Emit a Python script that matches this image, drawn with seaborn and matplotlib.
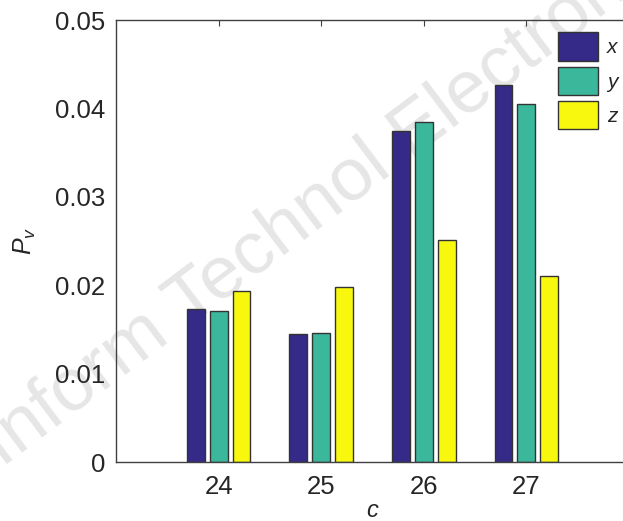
import pandas as pd
import matplotlib.pyplot as plt
import seaborn as sns

# values
c_vals = ['24', '25', '26', '27']
p_x = [0.0173, 0.0145, 0.0374, 0.0426]
p_y = [0.0171, 0.0146, 0.0385, 0.0405]
p_z = [0.0193, 0.0198, 0.0251, 0.0210]
series = ['x', 'y', 'z']
colors = ['#352a87', '#3bb89c', '#f8f80e']

df = pd.DataFrame({
    'c': c_vals * 3,
    'P': p_x + p_y + p_z,
    'axis': [s for s in series for _ in c_vals],
})

sns.set_style('white')
plt.rcParams['font.family'] = ['Liberation Sans', 'DejaVu Sans']
plt.rcParams['mathtext.fontset'] = 'custom'
plt.rcParams['mathtext.it'] = 'Liberation Sans:italic'
plt.rcParams['mathtext.rm'] = 'Liberation Sans'

fig = plt.figure(figsize=(6.23, 5.21), dpi=100)
ax = fig.add_axes([0.1862, 0.1132, 0.8234, 0.8484])
ax.set_facecolor('none')

sns.barplot(data=df, x='c', y='P', hue='axis', palette=colors, saturation=1,
            width=0.67, gap=0.22, edgecolor='#333333', linewidth=1.0,
            ax=ax)

ax.set_xlim(-1, 4)
ax.set_ylim(0, 0.05)
ax.set_yticks([0, 0.01, 0.02, 0.03, 0.04, 0.05])
ax.set_yticklabels(['0', '0.01', '0.02', '0.03', '0.04', '0.05'])
ax.tick_params(direction='in', top=True, right=True, length=4,
               labelsize=18.5, colors='#404040', labelcolor='#262626')
ax.tick_params(axis='y', pad=8)
ax.tick_params(axis='x', pad=9)
for sp in ax.spines.values():
    sp.set_color('#404040')
    sp.set_linewidth(1.0)

ax.set_xlabel('$c$', fontsize=17, color='#262626', labelpad=1)
ax.set_ylabel('$P_v$', fontsize=18, color='#262626', labelpad=12)

leg = ax.legend(loc='upper left', bbox_to_anchor=(548 / 623, 1 - 22 / 521),
                bbox_transform=fig.transFigure, frameon=False, borderpad=0,
                fontsize=15, handlelength=1.92, handleheight=1.7,
                labelspacing=0.3, handletextpad=0.4)
for t in leg.get_texts():
    t.set_fontstyle('italic')
    t.set_color('#262626')

# faint watermark behind the plot
fig.text(-0.05, 0.08, 'Inform Technol Electron', rotation=37, fontsize=54,
         color='#e6e6e6', ha='left', va='bottom', zorder=-1)

fig.savefig('out.png', dpi=100)
